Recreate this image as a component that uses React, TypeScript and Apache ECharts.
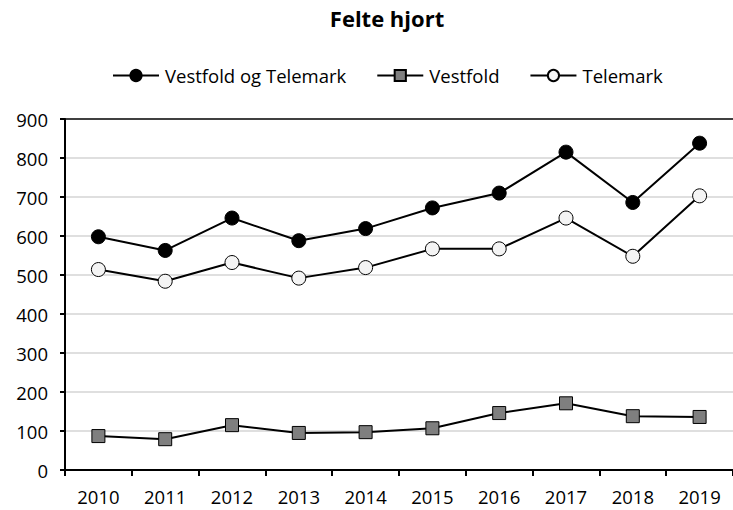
import React, { useEffect, useRef } from "react";
import * as echarts from "echarts";

const years = ["2010", "2011", "2012", "2013", "2014", "2015", "2016", "2017", "2018", "2019"];
const vestfoldTelemark = [598, 563, 646, 588, 619, 672, 710, 815, 686, 838];
const vestfold = [87, 79, 115, 95, 97, 107, 146, 171, 138, 136];
const telemark = [514, 484, 532, 492, 519, 567, 567, 646, 548, 703];

const FONT = "'Open Sans', sans-serif";

export default function App() {
  const ref = useRef<HTMLDivElement>(null);
  useEffect(() => {
    if (!ref.current) return;
    const chart = echarts.init(ref.current, undefined, { renderer: "svg" });
    const grid9 = ["transparent", "#d4d4d4", "#d4d4d4", "#d4d4d4", "#d4d4d4", "#d4d4d4", "#d4d4d4", "#d4d4d4", "#d4d4d4", "#000000"];
    const lineSeries = (name: string, data: number[], symbol: string, fill: string, size: number) => ({
      name,
      type: "line",
      data,
      symbol,
      symbolSize: size,
      showAllSymbol: true,
      lineStyle: { color: "#000", width: 2 },
      itemStyle: { color: fill, borderColor: "#000", borderWidth: 1 },
      z: 3,
    });
    chart.setOption({
      animation: false,
      backgroundColor: "#fff",
      title: {
        text: "Felte hjort",
        left: 382,
        textAlign: "center",
        top: 2,
        textStyle: { fontFamily: FONT, fontWeight: "bold", fontSize: 22, color: "#000" },
      },
      legend: {
        top: 61,
        left: 107,
        itemWidth: 46,
        itemHeight: 14,
        itemGap: 30,
        textStyle: { fontFamily: FONT, fontSize: 18.5, color: "#000", padding: [0, 0, 0, 1] },
        data: ["Vestfold og Telemark", "Vestfold", "Telemark"],
      },
      grid: { left: 65, right: -6, top: 119, bottom: 40, containLabel: false },
      xAxis: {
        type: "category",
        data: years,
        boundaryGap: true,
        axisLine: { lineStyle: { color: "#000", width: 2 } },
        axisTick: { show: true, length: 6, lineStyle: { color: "#000", width: 2 } },
        axisLabel: { fontFamily: FONT, fontSize: 18.5, color: "#000", margin: 17 },
      },
      yAxis: {
        type: "value",
        min: 0,
        max: 900,
        interval: 100,
        axisLine: { show: true, lineStyle: { color: "#000", width: 2 } },
        axisTick: { show: true, length: 5, lineStyle: { color: "#000", width: 2 } },
        axisLabel: { fontFamily: FONT, fontSize: 18.5, color: "#000", margin: 17 },
        splitLine: { show: true, lineStyle: { color: grid9, width: 1.5 } },
      },
      series: [
        lineSeries("Vestfold og Telemark", vestfoldTelemark, "circle", "#000000", 14),
        lineSeries("Vestfold", vestfold, "rect", "#7f7f7f", 13),
        lineSeries("Telemark", telemark, "circle", "#f4f4f4", 14),
      ],
    });
    return () => chart.dispose();
  }, []);
  return (
    <div
      ref={ref}
      style={{ position: "fixed", left: 0, top: 0, width: 733, height: 510 }}
    />
  );
}
